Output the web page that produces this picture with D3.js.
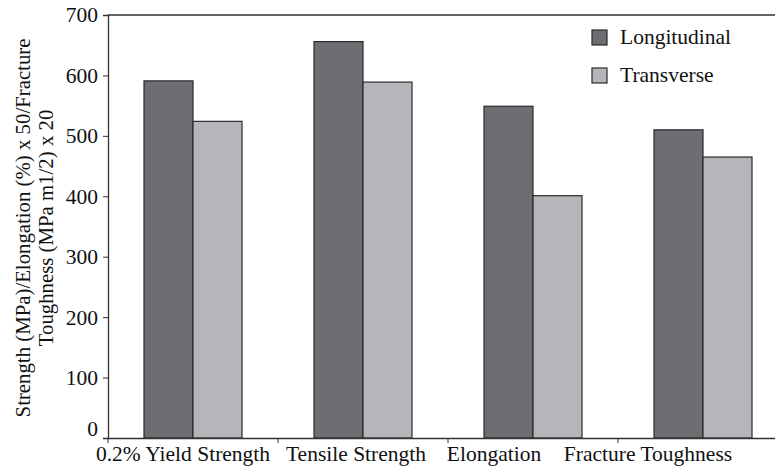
<!DOCTYPE html>
<html><head><meta charset="utf-8">
<script src="https://cdn.jsdelivr.net/npm/d3@7"></script>
<style>body{margin:0;background:#fff}svg{display:block}text{font-family:"Liberation Serif","Times New Roman",serif;fill:#111}</style>
</head><body><svg id="c" width="775" height="466"></svg>
<script>
const categories = ["0.2% Yield Strength", "Tensile Strength", "Elongation", "Fracture Toughness"];
const seriesNames = ["Longitudinal", "Transverse"];
const longitudinal = [591, 656, 549, 510];
const transverse = [524, 589, 401, 465];
const yTicks = [0, 100, 200, 300, 400, 500, 600, 700];
const colors = ["#6d6e72", "#b5b6ba"];
const labelShift = [-10, -7, -39, -55];

(function () {
const svg = d3.select("#c");
const mLeft = 108, mRight = 788, mTop = 15, mBottom = 438;
const FS = "21.5px";
const x0 = d3.scaleBand().domain(categories).range([mLeft, mRight]).padding(0);
const x1 = d3.scaleBand().domain(seriesNames).range([36, 134]).padding(0);
const y = d3.scaleLinear().domain([0, 700]).range([mBottom, mTop]);

const rows = categories.map((c, i) => ({cat: c, vals: [longitudinal[i], transverse[i]]}));

svg.append("line").attr("x1", mLeft).attr("x2", 775).attr("y1", mTop).attr("y2", mTop)
  .attr("stroke", "#333").attr("stroke-width", 1.3);

const g = svg.selectAll("g.grp").data(rows).enter().append("g").attr("class", "grp")
  .attr("transform", d => `translate(${x0(d.cat)},0)`);
g.selectAll("rect").data(d => d.vals.map((v, j) => ({s: seriesNames[j], v, j}))).enter()
  .append("rect")
  .attr("x", d => x1(d.s)).attr("width", x1.bandwidth())
  .attr("y", d => y(d.v)).attr("height", d => y(0) - y(d.v))
  .attr("fill", d => colors[d.j]).attr("stroke", "#2a2a2a").attr("stroke-width", 1.2);

const ya = svg.append("g").attr("transform", `translate(${mLeft},0)`)
  .call(d3.axisLeft(y).tickValues(yTicks).tickSize(5).tickPadding(5).tickFormat(d3.format("d")));
ya.attr("font-family", null);
ya.select(".domain").attr("stroke", "#333").attr("stroke-width", 1.3);
ya.selectAll(".tick line").attr("stroke", "#333");
ya.selectAll("text").style("font-size", FS).attr("fill", "#111");
ya.selectAll(".tick").filter(d => d === 0).select("text").attr("dy", "-0.1em");

const xa = svg.append("g").attr("transform", `translate(0,${mBottom})`)
  .call(d3.axisBottom(x0).tickSize(0).tickFormat(""));
xa.select(".domain").attr("stroke", "#333").attr("stroke-width", 1.3);
xa.selectAll(".tick").remove();
const edges = categories.map(c => x0(c));
svg.selectAll("line.xt").data(edges).enter().append("line").attr("class", "xt")
  .attr("x1", d => d).attr("x2", d => d).attr("y1", mBottom).attr("y2", mBottom + 5)
  .attr("stroke", "#333");
svg.selectAll("text.xl").data(categories).enter().append("text").attr("class", "xl")
  .attr("x", (d, i) => x0(d) + x0.bandwidth() / 2 + labelShift[i])
  .attr("y", 461).attr("text-anchor", "middle").style("font-size", FS).text(d => d);

const yl = svg.append("text").attr("transform", "translate(0,228) rotate(-90)").attr("text-anchor", "middle")
  .style("font-size", "20.8px");
yl.append("tspan").attr("x", 0).attr("y", 30).text("Strength (MPa)/Elongation (%) x 50/Fracture");
yl.append("tspan").attr("x", 0).attr("y", 53).text("Toughness (MPa m1/2) x 20");

const lg = svg.selectAll("g.lg").data(seriesNames).enter().append("g").attr("class", "lg")
  .attr("transform", (d, i) => `translate(592,${30 + i * 38})`);
lg.append("rect").attr("width", 15).attr("height", 15).attr("fill", (d, i) => colors[i])
  .attr("stroke", "#2a2a2a").attr("stroke-width", 1.2);
lg.append("text").attr("x", 28).attr("y", 14).style("font-size", FS).text(d => d);
})();
</script></body></html>
